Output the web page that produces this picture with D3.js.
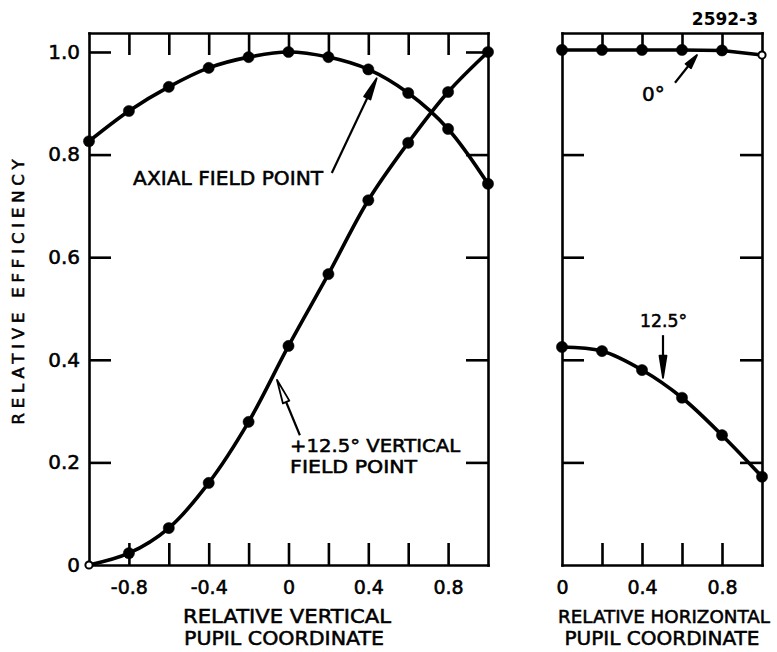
<!DOCTYPE html>
<html>
<head>
<meta charset="utf-8">
<script src="https://cdn.jsdelivr.net/npm/d3@7"></script>
<style>
  html, body { margin: 0; padding: 0; background: #fff; }
  svg { display: block; }
  text { font-family: "DejaVu Sans", "Liberation Sans", sans-serif; fill: #000; stroke: #000; stroke-width: 0.55px; }
</style>
</head>
<body>
<svg id="chart" width="777" height="652"></svg>
<script>
// Relative efficiency across the pupil, vertical and horizontal cuts
const verticalPupil = [-1.0, -0.8, -0.6, -0.4, -0.2, 0.0, 0.2, 0.4, 0.6, 0.8, 1.0];
const axialEfficiency = [0.826, 0.885, 0.932, 0.969, 0.990, 1.000, 0.990, 0.966, 0.920, 0.850, 0.743];
const vertical125Efficiency = [0.000, 0.023, 0.072, 0.160, 0.279, 0.427, 0.567, 0.711, 0.823, 0.922, 1.000];

const horizontalPupil = [0.0, 0.2, 0.4, 0.6, 0.8, 1.0];
const horiz0Efficiency = [1.004, 1.004, 1.004, 1.004, 1.003, 0.994];
const horiz125Efficiency = [0.425, 0.417, 0.380, 0.326, 0.253, 0.172];

const yTickValues = [0, 0.2, 0.4, 0.6, 0.8, 1.0];
const yTickLabels = ["0", "0.2", "0.4", "0.6", "0.8", "1.0"];
const leftXTickValues = [-0.8, -0.6, -0.4, -0.2, 0, 0.2, 0.4, 0.6, 0.8];
const leftXLabelValues = [-0.8, -0.4, 0, 0.4, 0.8];
const leftXLabels = ["-0.8", "-0.4", "0", "0.4", "0.8"];
const rightXTickValues = [0.2, 0.4, 0.6, 0.8];
const rightXLabelValues = [0, 0.4, 0.8];
const rightXLabels = ["0", "0.4", "0.8"];

const svg = d3.select("#chart");

// Scales
const yMax = 1.037;
const y = d3.scaleLinear().domain([0, yMax]).range([565, 33]);
const xL = d3.scaleLinear().domain([-1, 1]).range([89, 488]);
const xR = d3.scaleLinear().domain([0, 1]).range([562, 762]);

const AXIS_W = 2.6, TICK = 22;

function styleAxis(g) {
  g.selectAll("path.domain").attr("stroke", "#000").attr("stroke-width", AXIS_W).attr("stroke-linecap", "square");
  g.selectAll(".tick line").attr("stroke", "#000").attr("stroke-width", AXIS_W);
  g.selectAll(".tick text").style("font-size", "19px").attr("fill", "#000");
}

function frame(x, xTicks, labelVals, labels, yLabels, yTicksSides) {
  const [x0, x1] = x.range();
  const fmtX = v => {
    const i = labelVals.findIndex(l => Math.abs(l - v) < 1e-9);
    return i >= 0 ? labels[i] : "";
  };
  // bottom
  const bottom = svg.append("g").attr("transform", `translate(0,${y(0)})`)
    .call(d3.axisBottom(x).tickValues(d3.sort(new Set([...xTicks, ...labelVals])))
      .tickFormat(fmtX).tickSize(-TICK).tickSizeOuter(0).tickPadding(16));
  bottom.selectAll(".tick").filter(d => !xTicks.some(t => Math.abs(t - d) < 1e-9)).select("line").remove();
  styleAxis(bottom);
  // top
  const top = svg.append("g").attr("transform", `translate(0,${y(yMax)})`)
    .call(d3.axisTop(x).tickValues(xTicks).tickFormat("").tickSize(-TICK).tickSizeOuter(0));
  styleAxis(top);
  // left
  const left = svg.append("g").attr("transform", `translate(${x0},0)`)
    .call(d3.axisLeft(y).tickValues(yTickValues)
      .tickFormat((d, i) => yLabels ? yTickLabels[i] : "")
      .tickSize(-TICK).tickSizeOuter(0).tickPadding(9));
  left.selectAll(".tick").filter(d => !yTicksSides.includes(d)).select("line").remove();
  styleAxis(left);
  left.selectAll(".tick text").style("font-size", "20px");
  // right
  const right = svg.append("g").attr("transform", `translate(${x1},0)`)
    .call(d3.axisRight(y).tickValues(yTicksSides).tickFormat("").tickSize(-TICK).tickSizeOuter(0));
  styleAxis(right);
}

frame(xL, leftXTickValues, leftXLabelValues, leftXLabels, true, [0.2, 0.4, 0.6, 0.8, 1.0]);
frame(xR, rightXTickValues, rightXLabelValues, rightXLabels, false, [0.2, 0.4, 0.6, 0.8]);

// Curves and markers
function series(x, xs, ys, curve, hollow) {
  const pts = xs.map((v, i) => [v, ys[i]]);
  svg.append("path")
    .datum(pts)
    .attr("fill", "none")
    .attr("stroke", "#000")
    .attr("stroke-width", 3.6)
    .attr("stroke-linejoin", "round")
    .attr("d", d3.line().x(d => x(d[0])).y(d => y(d[1])).curve(curve));
  svg.append("g").selectAll("circle")
    .data(pts)
    .join("circle")
    .attr("cx", d => x(d[0]))
    .attr("cy", d => y(d[1]))
    .attr("r", (d, i) => hollow.includes(i) ? 3.6 : 5.6)
    .attr("fill", (d, i) => hollow.includes(i) ? "#fff" : "#000")
    .attr("stroke", "#000")
    .attr("stroke-width", (d, i) => hollow.includes(i) ? 2 : 0.5);
}

series(xL, verticalPupil, axialEfficiency, d3.curveCatmullRom.alpha(0.5), []);
series(xL, verticalPupil, vertical125Efficiency, d3.curveCatmullRom.alpha(0.5), [0]);
series(xR, horizontalPupil, horiz0Efficiency, d3.curveLinear, [5]);
series(xR, horizontalPupil, horiz125Efficiency, d3.curveCatmullRom.alpha(0.5), []);

// Leader arrows (tail -> tip, data units)
function arrow(x, tail, tip, headLen, headW, filled) {
  const x1 = x(tail[0]), y1 = y(tail[1]), x2 = x(tip[0]), y2 = y(tip[1]);
  const a = Math.atan2(y2 - y1, x2 - x1);
  const bx = x2 - headLen * Math.cos(a), by = y2 - headLen * Math.sin(a);
  const nx = -Math.sin(a) * headW / 2, ny = Math.cos(a) * headW / 2;
  svg.append("line")
    .attr("x1", x1).attr("y1", y1).attr("x2", filled ? bx : bx + (x2 - bx) * 0.1)
    .attr("y2", filled ? by : by + (y2 - by) * 0.1)
    .attr("stroke", "#000").attr("stroke-width", 2.2);
  svg.append("path")
    .attr("d", `M${x2},${y2}L${bx + nx},${by + ny}L${bx - nx},${by - ny}Z`)
    .attr("fill", filled ? "#000" : "#fff")
    .attr("stroke", "#000").attr("stroke-width", 1.8).attr("stroke-linejoin", "round");
}

arrow(xL, [0.217, 0.764], [0.442, 0.949], 22, 7, true);
arrow(xL, [0.057, 0.253], [-0.058, 0.361], 24, 7, false);
arrow(xR, [0.565, 0.940], [0.675, 0.994], 14, 7, true);
arrow(xR, [0.505, 0.448], [0.505, 0.365], 22, 7, true);

// Annotations
function label(x, xv, yv, txt, size, len) {
  const t = svg.append("text")
    .attr("x", x(xv)).attr("y", y(yv))
    .style("font-size", size + "px")
    .text(txt);
  if (len) t.attr("textLength", len).attr("lengthAdjust", "spacingAndGlyphs");
  return t;
}

label(xL, -0.779, 0.741, "AXIAL FIELD POINT", 20, 190);
label(xL, 0.008, 0.221, "+12.5° VERTICAL", 18, 170);
label(xL, 0.008, 0.179, "FIELD POINT", 18, 127);
label(xR, 0.40, 0.905, "0°", 20);
label(xR, 0.39, 0.464, "12.5°", 18, 47);

svg.append("text")
  .attr("x", 758).attr("y", 25)
  .attr("text-anchor", "end")
  .style("font-size", "17px").style("font-weight", "bold").style("stroke-width", "0px")
  .text("2592-3");

// Axis titles
function title(cx, baseline, txt, len, size) {
  svg.append("text")
    .attr("x", cx).attr("y", baseline)
    .attr("text-anchor", "middle")
    .attr("textLength", len).attr("lengthAdjust", "spacingAndGlyphs")
    .style("font-size", size + "px")
    .text(txt);
}

title(287, 623, "RELATIVE VERTICAL", 208, 20);
title(284, 645, "PUPIL COORDINATE", 200, 20);
title(664, 623, "RELATIVE HORIZONTAL", 212, 18.5);
title(662, 645, "PUPIL COORDINATE", 195, 20);

svg.append("text")
  .attr("transform", "translate(24,292) rotate(-90)")
  .attr("text-anchor", "middle")
  .attr("textLength", 265).attr("lengthAdjust", "spacing")
  .style("font-size", "16.5px")
  .text("RELATIVE EFFICIENCY");
</script>
</body>
</html>
